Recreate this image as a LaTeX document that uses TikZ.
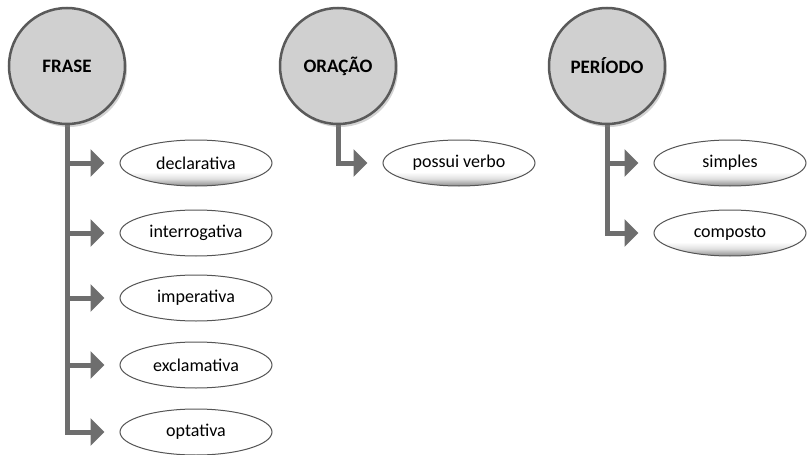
\documentclass[tikz,border=0pt]{standalone}
\usepackage{fontspec}
\setmainfont{Carlito}
\usetikzlibrary{shapes.geometric,arrows.meta,shadows}
\definecolor{conncol}{HTML}{6E6E6E}
\definecolor{circfill}{HTML}{D0D0D0}
\definecolor{circline}{HTML}{5A5A5A}
\definecolor{leafline}{HTML}{555555}
\pgfdeclareverticalshading{leafshade}{100bp}{color(0bp)=(black!55); color(25bp)=(black!45); color(33bp)=(black!12); color(40bp)=(white); color(100bp)=(white)}
\tikzset{
  topic/.style={circle, minimum size=116pt, inner sep=0pt, fill=circfill, draw=circline, line width=2.5pt,
    drop shadow={opacity=0.35, shadow xshift=2pt, shadow yshift=-3pt},
    font=\fontsize{19}{22}\selectfont\bfseries, text=black},
  leaf/.style={ellipse, minimum width=152pt, minimum height=46pt, inner sep=0pt, fill=white, draw=leafline, line width=1pt,
    font=\fontsize{18}{21}\selectfont, text=black},
  leafshaded/.style={leaf, shading=leafshade},
  conn/.style={draw=conncol, line width=5pt, -{Triangle[width=27pt,length=14pt]}, shorten >=15pt}
}
\begin{document}
\begin{tikzpicture}[x=1pt,y=-1pt]
\useasboundingbox (0,0) rectangle (807,455);
\coordinate (fc) at (67,66);
\coordinate (oc) at (338,66);
\coordinate (pc) at (607,66);
\node[leafshaded] (d1) at (196,163) {declarativa};
\node[leaf] (d2) at (196,233) {interrogativa};
\node[leaf] (d3) at (196,298) {imperativa};
\node[leaf] (d4) at (196,365) {exclamativa};
\node[leaf] (d5) at (196,432) {optativa};
\node[leafshaded] (o1) at (459,163) {possui verbo};
\node[leafshaded] (p1) at (730,163) {simples};
\node[leafshaded] (p2) at (730,233) {composto};
\foreach \t in {d1,d2,d3,d4,d5} \draw[conn] (fc) |- (\t.west);
\draw[conn] (oc) |- (o1.west);
\foreach \t in {p1,p2} \draw[conn] (pc) |- (\t.west);
\node[topic] (frase) at (fc) {FRASE};
\node[topic] (oracao) at (oc) {ORAÇÃO};
\node[topic] (periodo) at (pc) {PERÍODO};
\end{tikzpicture}
\end{document}
